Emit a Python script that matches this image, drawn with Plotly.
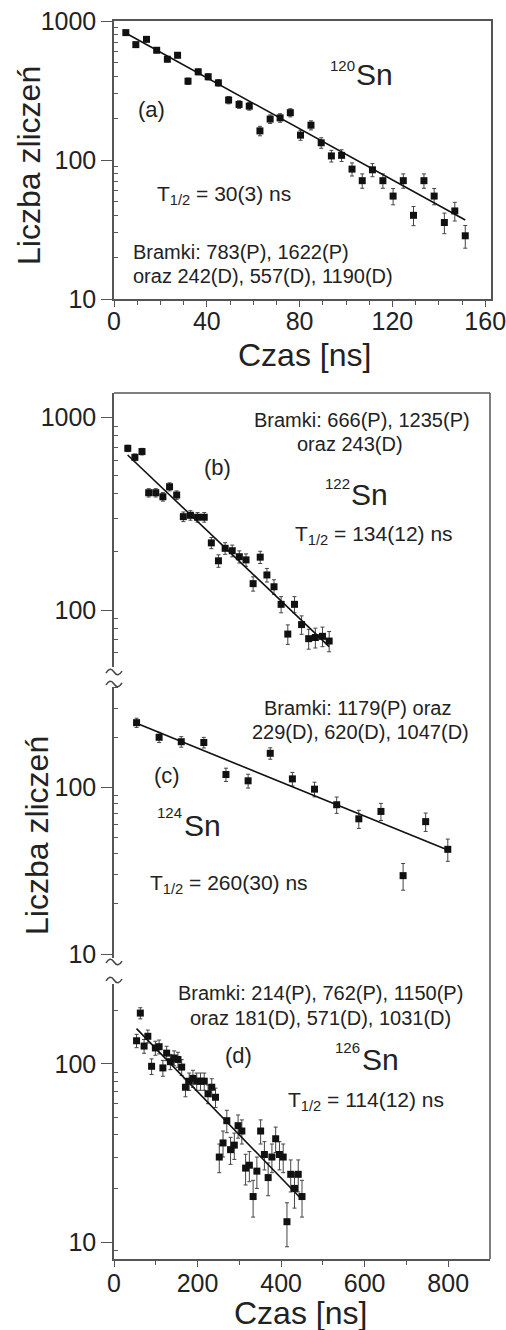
import plotly.graph_objects as go

W, H = 506, 1330

# ---------------- data ----------------
# (a) 120Sn
a_t = [5.1, 9.4, 14, 18.4, 23, 27.4, 31.9, 36.3, 40.6, 45, 49.4, 53.9, 58.3, 62.9, 67.3, 71.6, 76,
       80.4, 84.9, 89.3, 93.7, 98.1, 102.6, 107, 111.4, 115.9, 120.3, 124.7, 129.1, 133.6, 138,
       142.4, 146.9, 151.4]
a_n = [825, 676, 738, 616, 531, 567, 369, 431, 397, 359, 270, 251, 244, 162, 197, 201, 219, 151,
       178, 133, 107, 108, 86, 71, 85, 71, 55, 71, 40, 71, 55, 35.5, 43, 28.5]
a_err = [28.7, 26, 27.2, 24.8, 23, 23.8, 19.2, 20.8, 19.9, 18.9, 16.4, 15.8, 15.6, 12.7, 14, 14.2,
         14.8, 12.3, 13.3, 11.5, 10.3, 10.4, 9.3, 8.4, 9.2, 8.4, 7.4, 8.4, 6.3, 8.4, 7.4, 6, 6.6, 5.3]
a_fit_t = [5, 151.4]
a_fit_n = [820, 37]

# (b) 122Sn
b_t = [33, 50, 67, 83, 100, 117, 133, 150, 166, 183, 200, 216, 233, 250, 266, 283, 300, 316, 333,
       350, 366, 383, 400, 416, 432, 449, 466, 482, 499, 515]
b_n = [690, 620, 664, 406, 406, 387, 436, 395, 305, 310, 303, 303, 223, 180, 209, 203, 189, 182,
       137, 188, 152, 132, 107, 75, 107, 84, 71, 72, 73, 69]
b_err = [26.3, 24.9, 25.8, 20.1, 20.1, 19.7, 20.9, 19.9, 17.5, 17.6, 17.4, 17.4, 14.9, 13.4, 14.5,
         14.2, 13.7, 13.5, 11.7, 13.7, 12.3, 11.5, 10.3, 8.7, 10.3, 9.2, 8.4, 8.5, 8.5, 8.3]
b_fit_t = [32.6, 515]
b_fit_n = [637, 64.6]

# (c) 124Sn
c_t = [54, 108, 161, 215, 268, 321, 374, 427, 480, 533, 586, 639, 692, 746, 799]
c_n = [246, 201, 189, 187, 120, 110, 161, 113, 98, 79, 65, 72, 29.6, 62.5, 42.6]
c_err = [15.7, 14.2, 13.7, 13.7, 11, 10.5, 12.7, 10.6, 9.9, 8.9, 8.1, 8.5, 5.4, 7.9, 6.5]
c_fit_t = [54, 799]
c_fit_n = [244, 42.2]

# (d) 126Sn
d_t = [54, 63, 72, 81, 90, 99, 108, 117, 126, 135, 144, 153, 162, 171, 180, 189, 198, 207, 216,
       225, 234, 243, 252, 261, 270, 279, 288, 297, 306, 315, 324, 333, 342, 351, 360, 369, 378,
       387, 396, 405, 414, 423, 432, 441, 450]
d_n = [135, 193, 126, 143, 97, 123, 125, 95, 115, 103, 108, 106, 96, 74, 80, 83, 80, 80, 80, 68,
       74, 65, 30, 36, 48, 33, 35, 45, 42, 26, 27, 18, 25, 42, 31, 23, 30, 38, 31, 30, 13, 24, 20,
       24, 18]
d_err = [11.6, 13.9, 11.2, 12, 9.8, 11.1, 11.2, 9.7, 10.7, 10.1, 10.4, 10.3, 9.8, 8.6, 8.9, 9.1,
         8.9, 8.9, 8.9, 8.2, 8.6, 8.1, 5.5, 6, 6.9, 5.7, 5.9, 6.7, 6.5, 5.1, 5.2, 4.2, 5, 6.5, 5.6,
         4.8, 5.5, 6.2, 5.6, 5.5, 3.6, 4.9, 4.5, 4.9, 4.2]
d_fit_t = [54, 448]
d_fit_n = [158, 17.5]

top_xticks = [0, 40, 80, 120, 160]
bot_xticks = [0, 200, 400, 600, 800]
# --------------------------------------

FONT = "Liberation Sans, Arial, Helvetica, sans-serif"
TXT = "#222"
LC = "#555"


def px(x):
    return x / W


def py(y):
    return 1 - y / H


fig = go.Figure()


def add_panel(t, n, err, ft, fn, xa, ya):
    fig.add_trace(go.Scatter(
        x=t, y=n, mode="markers", xaxis=xa, yaxis=ya,
        marker=dict(symbol="square", size=7, color="#111"),
        error_y=dict(type="data", array=err, visible=True, thickness=1, width=2, color="#444"),
        cliponaxis=False))
    fig.add_trace(go.Scatter(
        x=ft, y=fn, mode="lines", xaxis=xa, yaxis=ya,
        line=dict(color="#111", width=1.6)))


add_panel(a_t, a_n, a_err, a_fit_t, a_fit_n, "x", "y")
add_panel(b_t, b_n, b_err, b_fit_t, b_fit_n, "x2", "y2")
add_panel(c_t, c_n, c_err, c_fit_t, c_fit_n, "x2", "y3")
add_panel(d_t, d_n, d_err, d_fit_t, d_fit_n, "x2", "y4")

base = dict(showgrid=False, zeroline=False, showline=True, linecolor=LC, linewidth=1.5,
            ticks="outside", tickcolor=LC, tickwidth=1.2, ticklabeloverflow="allow",
            tickfont=dict(size=25, color=TXT, family=FONT), automargin=False)


def ylog(domain, rng, minors, anchor, mirror=False):
    d = dict(base)
    d.update(type="log", domain=domain, range=rng, anchor=anchor, mirror=mirror,
             tickvals=[10, 100, 1000], ticktext=["10", "100", "1000"], ticklen=11,
             minor=dict(tickvals=minors, ticks="inside", ticklen=4, tickcolor=LC, tickwidth=1))
    return d


def xlin(domain, rng, tv, minors, anchor, mirror=False, standoff=0):
    d = dict(base)
    d.update(domain=domain, range=rng, anchor=anchor, mirror=mirror, tickvals=tv,
             ticktext=[str(v) for v in tv], ticklen=6, ticklabelstandoff=standoff,
             minor=dict(tickvals=minors, ticks="outside", ticklen=4, tickcolor=LC, tickwidth=1))
    return d


fig.update_layout(
    xaxis=xlin([px(114), px(491)], [0, 162.5], top_xticks,
               [10, 20, 30, 50, 60, 70, 90, 100, 110, 130, 140, 150], "y", mirror=True,
               standoff=-7),
    yaxis=ylog([py(299), py(21)], [1, 3],
               [20, 30, 40, 50, 60, 70, 80, 90, 200, 300, 400, 500, 600, 700, 800, 900], "x",
               mirror=True),
    xaxis2=xlin([px(114), px(490)], [0, 900], bot_xticks, [100, 300, 500, 700], "y4",
                standoff=-5),
    yaxis2=ylog([py(667), py(393)], [1.7042, 3.1261],
                [60, 70, 80, 90, 200, 300, 400, 500, 600, 700, 800, 900], "x2"),
    yaxis3=ylog([py(958), py(687)], [0.976, 2.6055],
                [20, 30, 40, 50, 60, 70, 80, 90, 200, 300, 400], "x2"),
    yaxis4=ylog([py(1259), py(984)], [0.9045, 2.449],
                [8, 9, 20, 30, 40, 50, 60, 70, 80, 90, 200], "x2"),
)

# frame of lower panel (top and right edges) and axis breaks
shapes = [
    dict(type="line", xref="paper", yref="paper", x0=px(114), x1=px(490), y0=py(393), y1=py(393),
         line=dict(color=LC, width=1.5)),
    dict(type="line", xref="paper", yref="paper", x0=px(490), x1=px(490), y0=py(393), y1=py(1259),
         line=dict(color=LC, width=1.5)),
]


def tilde(xc, yc):
    pts = [(xc - 8, yc + 1), (xc - 4, yc - 6), (xc, yc), (xc + 8, yc - 1)]
    p = [f"{px(x):.5f},{py(y):.5f}" for x, y in pts]
    return dict(type="path", xref="paper", yref="paper",
                path=f"M {p[0]} Q {p[1]} {p[2]} T {p[3]}", line=dict(color="#444", width=1.5))


for yc in (672, 684, 962, 980):
    shapes.append(tilde(114, yc))
fig.update_layout(shapes=shapes)


def ann(text, x, y, size, xanchor="left", yanchor="middle", angle=0):
    fig.add_annotation(text=text, x=px(x), y=py(y), xref="paper", yref="paper", showarrow=False,
                       font=dict(size=size, color=TXT, family=FONT), xanchor=xanchor,
                       yanchor=yanchor, textangle=angle, borderpad=0)


# axis titles
ann("Liczba zliczeń", 29, 166, 32, "center", "middle", -90)
ann("Czas [ns]", 304, 355, 32, "center", "middle")
ann("Liczba zliczeń", 37, 836, 32, "center", "middle", -90)
ann("Czas [ns]", 300, 1313, 32, "center", "middle")

# panel (a)
ann("120", 329, 66, 15)
ann("Sn", 355, 74, 30)
ann("(a)", 151, 110, 22, "center")
ann("T<sub>1/2</sub> = 30(3) ns", 156, 195, 21)
ann("Bramki: 783(P), 1622(P)", 132, 252, 20)
ann("oraz 242(D), 557(D), 1190(D)", 132, 276, 20)

# panel (b)
ann("Bramki: 666(P), 1235(P)", 362, 420, 20, "center")
ann("oraz 243(D)", 350, 444, 20, "center")
ann("(b)", 217, 467, 22, "center")
ann("122", 324, 484, 15)
ann("Sn", 350, 495, 30)
ann("T<sub>1/2</sub> = 134(12) ns", 294, 535, 21)

# panel (c)
ann("Bramki: 1179(P) oraz", 357, 708, 20, "center")
ann("229(D), 620(D), 1047(D)", 360, 732, 20, "center")
ann("(c)", 167, 775, 22, "center")
ann("124", 156, 813, 15)
ann("Sn", 183, 825, 30)
ann("T<sub>1/2</sub> = 260(30) ns", 149, 884, 21)

# panel (d)
ann("Bramki: 214(P), 762(P), 1150(P)", 320, 993, 20, "center")
ann("oraz 181(D), 571(D), 1031(D)", 320, 1018, 20, "center")
ann("(d)", 238, 1055, 22, "center")
ann("126", 334, 1047, 15)
ann("Sn", 361, 1059, 30)
ann("T<sub>1/2</sub> = 114(12) ns", 287, 1101, 21)

fig.update_layout(width=W, height=H, margin=dict(l=0, r=0, t=0, b=0), showlegend=False,
                  paper_bgcolor="white", plot_bgcolor="white",
                  font=dict(family=FONT, color=TXT))

fig.write_html("out.html")
